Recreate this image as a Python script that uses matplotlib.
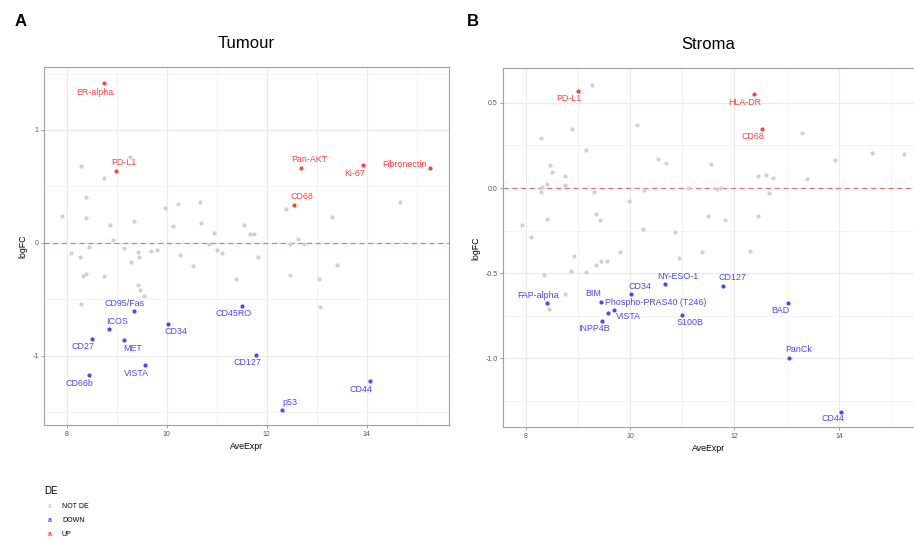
import numpy as np
import matplotlib.pyplot as plt

plt.rcParams['font.family'] = ['Liberation Sans', 'DejaVu Sans']
plt.rcParams['axes.unicode_minus'] = False

# ---- Tumour: proteins that are not DE
tum_ns_x = [8.29, 9.27, 8.75, 8.39, 7.91, 8.38, 8.87, 9.34, 8.92, 8.45, 8.08, 8.27, 9.15,
            9.43, 9.44, 9.29, 9.69, 9.80, 9.97, 10.23, 10.67, 10.13, 10.68, 10.94, 10.85,
            11.00, 11.11, 10.27, 10.53, 11.55, 11.66, 11.75, 11.82, 11.38, 12.38, 12.63,
            12.47, 12.75, 12.46, 13.05, 13.31, 13.40, 14.67, 8.33, 8.39, 8.74, 9.42, 9.47,
            9.55, 8.29, 13.07]
tum_ns_y = [0.681, 0.761, 0.578, 0.407, 0.239, 0.224, 0.159, 0.195, 0.027, -0.038, -0.094,
            -0.124, -0.041, -0.083, -0.124, -0.168, -0.068, -0.062, 0.310, 0.348, 0.360,
            0.147, 0.174, 0.088, -0.006, -0.062, -0.091, -0.106, -0.206, 0.162, 0.080,
            0.080, -0.121, -0.319, 0.298, 0.035, -0.009, -0.012, -0.286, -0.319, 0.230,
            -0.198, 0.360, -0.292, -0.280, -0.292, -0.370, -0.416, -0.469, -0.540, -0.566]

tum_up = ['ER-alpha', 'PD-L1', 'Pan-AKT', 'Ki-67', 'Fibronectin', 'CD68']
tum_up_x = [8.74, 8.99, 12.69, 13.93, 15.27, 12.54]
tum_up_y = [1.413, 0.640, 0.667, 0.687, 0.664, 0.339]

tum_down = ['CD95/Fas', 'CD45RO', 'ICOS', 'CD34', 'CD27', 'MET', 'CD127', 'VISTA',
            'CD66b', 'CD44', 'p53']
tum_down_x = [9.34, 11.51, 8.85, 10.02, 8.50, 9.14, 11.79, 9.57, 8.44, 14.06, 12.31]
tum_down_y = [-0.604, -0.557, -0.767, -0.714, -0.849, -0.861, -0.991, -1.082, -1.174,
              -1.227, -1.478]

# ---- Stroma
str_ns_x = [9.27, 8.88, 8.30, 9.16, 10.14, 8.46, 8.50, 8.75, 8.75, 8.41, 8.31, 8.29, 9.30,
            8.40, 7.93, 8.10, 9.35, 9.43, 9.97, 10.27, 10.24, 10.54, 10.68, 10.86, 11.11,
            10.94, 11.38, 11.55, 11.50, 11.66, 11.74, 11.81, 12.29, 12.45, 12.61, 12.74,
            12.67, 12.45, 13.29, 13.38, 13.92, 14.64, 15.25, 8.93, 8.86, 9.15, 8.34, 9.35,
            9.44, 9.55, 9.81, 8.76, 8.45]
str_ns_y = [0.607, 0.344, 0.295, 0.223, 0.368, 0.135, 0.094, 0.068, 0.020, 0.023, 0.008,
            -0.023, -0.022, -0.182, -0.217, -0.290, -0.151, -0.186, -0.076, -0.010, -0.241,
            0.172, 0.149, -0.256, 0.000, -0.409, -0.374, 0.141, -0.164, -0.004, 0.000,
            -0.186, -0.370, 0.070, 0.078, 0.059, -0.029, -0.164, 0.321, 0.051, 0.162,
            0.207, 0.198, -0.399, -0.487, -0.493, -0.511, -0.454, -0.429, -0.427, -0.376,
            -0.624, -0.709]

str_up = ['PD-L1', 'HLA-DR', 'CD68']
str_up_x = [9.00, 12.37, 12.53]
str_up_y = [0.569, 0.550, 0.348]

str_down = ['FAP-alpha', 'BIM', 'CD34', 'NY-ESO-1', 'CD127', 'Phospho-PRAS40 (T246)',
            'VISTA', 'INPP4B', 'S100B', 'BAD', 'PanCk', 'CD44']
str_down_x = [8.40, 9.44, 10.02, 10.66, 11.78, 9.69, 9.58, 9.47, 10.99, 13.03, 13.05, 14.05]
str_down_y = [-0.677, -0.669, -0.620, -0.565, -0.575, -0.714, -0.732, -0.779, -0.744,
              -0.677, -0.996, -1.313]

# label offsets in pixels (repel-like placement)
tum_off = {'ER-alpha': (-9, -9), 'PD-L1': (8, 8), 'Pan-AKT': (8, 8), 'Ki-67': (-9, -8),
           'Fibronectin': (-26, 3), 'CD68': (8, 8), 'CD95/Fas': (-9, 8), 'CD45RO': (-9, -8),
           'ICOS': (8, 8), 'CD34': (8, -8), 'CD27': (-9, -8), 'MET': (9, -8),
           'CD127': (-9, -8), 'VISTA': (-9, -8), 'CD66b': (-9, -8), 'CD44': (-9, -8),
           'p53': (8, 7)}
str_off = {'PD-L1': (-9, -7), 'HLA-DR': (-9, -8), 'CD68': (-9, -8), 'FAP-alpha': (-9, 8),
           'BIM': (-8, 8), 'CD34': (9, 7), 'NY-ESO-1': (13, 8), 'CD127': (9, 8),
           'Phospho-PRAS40 (T246)': (42, 7), 'VISTA': (20, -4), 'INPP4B': (-9, -8),
           'S100B': (8, -8), 'BAD': (-8, -7), 'PanCk': (9, 8), 'CD44': (-9, -7)}

c_ns = '#d0d0d0'
c_up = '#ff4040'
c_down = '#4848ff'


def volcano(ax, ns_x, ns_y, up, up_x, up_y, down, down_x, down_y, off, title):
    ax.scatter(ns_x, ns_y, s=9, color=c_ns, linewidths=0, zorder=3)
    ax.scatter(up_x, up_y, s=9, color=c_up, linewidths=0, zorder=3)
    ax.scatter(down_x, down_y, s=9, color=c_down, linewidths=0, zorder=3)
    for names, xs, ys, col in [(up, up_x, up_y, c_up), (down, down_x, down_y, c_down)]:
        for n, x, y in zip(names, xs, ys):
            ax.annotate(n, (x, y), xytext=off[n], textcoords='offset pixels',
                        ha='center', va='center', fontsize=6.4, color=col, zorder=4)
    ax.axhline(0, color='#ea5f6e', ls=(0, (4, 3)), lw=0.9, alpha=0.85, zorder=2)
    ax.set_title(title, fontsize=12, pad=14)
    ax.set_xlabel('AveExpr', fontsize=6.3, labelpad=3)
    ax.set_ylabel('logFC', fontsize=6.3, labelpad=4)
    ax.set_xticks([8, 10, 12, 14])
    ax.set_xticks([9, 11, 13, 15], minor=True)
    ax.grid(True, which='major', color='#ebebeb', lw=0.9)
    ax.grid(True, which='minor', color='#f3f3f3', lw=0.6)
    ax.set_axisbelow(True)
    ax.tick_params(which='major', labelsize=5, colors='#888888', length=2, width=0.6,
                   labelcolor='#555555', pad=2)
    ax.tick_params(which='minor', length=0)
    for s in ax.spines.values():
        s.set_color('#a0a0a0')
        s.set_linewidth(0.8)


fig = plt.figure(figsize=(9.14, 5.41), dpi=100)
ax1 = fig.add_axes([0.0485, 0.2144, 0.4424, 0.6612])
ax2 = fig.add_axes([0.5507, 0.2102, 0.4493, 0.6636])

volcano(ax1, tum_ns_x, tum_ns_y, tum_up, tum_up_x, tum_up_y,
        tum_down, tum_down_x, tum_down_y, tum_off, 'Tumour')
ax1.set_xlim(7.55, 15.64)
ax1.set_ylim(-1.613, 1.555)
ax1.set_yticks([-1, 0, 1])
ax1.set_yticks([-1.5, -0.5, 0.5, 1.5], minor=True)

volcano(ax2, str_ns_x, str_ns_y, str_up, str_up_x, str_up_y,
        str_down, str_down_x, str_down_y, str_off, 'Stroma')
ax2.set_xlim(7.57, 15.44)
ax2.set_ylim(-1.405, 0.703)
ax2.set_yticks([-1.0, -0.5, 0.0, 0.5])
ax2.set_yticklabels(['-1.0', '-0.5', '0.0', '0.5'])
ax2.set_yticks([-1.25, -0.75, -0.25, 0.25], minor=True)
ax2.spines['right'].set_visible(False)

fig.text(15 / 914, 1 - 22 / 541, 'A', fontsize=12, fontweight='bold', va='center')
fig.text(467 / 914, 1 - 22 / 541, 'B', fontsize=12, fontweight='bold', va='center')

# legend drawn by hand (text keys like ggrepel)
fig.text(44 / 914, 1 - 491 / 541, 'DE', fontsize=7, va='center')
for i, (lab, col) in enumerate([('NOT DE', c_ns), ('DOWN', c_down), ('UP', c_up)]):
    yy = 1 - (507 + i * 14) / 541
    fig.text(50 / 914, yy, 'a', fontsize=5, color=col, fontweight='bold',
             va='center', ha='center')
    fig.text(62 / 914, yy, lab, fontsize=5, va='center')

fig.savefig('out.png', dpi=100, facecolor='white')
